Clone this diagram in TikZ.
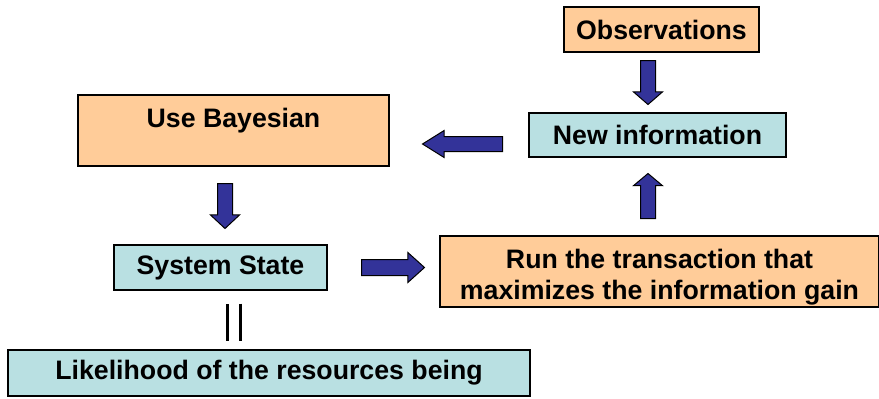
\documentclass[tikz,border=0pt]{standalone}
\usepackage{fontspec}
\setmainfont{Liberation Sans}
\usepackage{tikz}
\usetikzlibrary{shapes.arrows}
\definecolor{boxorange}{RGB}{255,204,153}
\definecolor{boxteal}{RGB}{185,224,226}
\definecolor{arrowblue}{RGB}{51,51,153}

\begin{document}
\begin{tikzpicture}[x=1pt,y=-1pt]
        \tikzstyle{box text}=[align=center,font=\fontsize{26.7}{31}\selectfont\bfseries]
        \tikzstyle{box}=[draw=black,line width=1.4pt,inner sep=0pt,box text]
        \tikzstyle{orange box}=[box,fill=boxorange]
        \tikzstyle{teal box}=[box,fill=boxteal]
        \tikzstyle{block arrow}=[draw=black,line width=1pt,fill=arrowblue,single arrow,inner sep=7pt,single arrow head extend=7pt,anchor=tail]
        \useasboundingbox (0,0) rectangle (879,399);

        \node[orange box,minimum width=195pt,minimum height=45pt] (obs) at (661.5,29.5) {Observations};
        \node[teal box,minimum width=257pt,minimum height=44pt] (new) at (657.5,135) {New information};
        \node[orange box,minimum width=311pt,minimum height=71pt,text height=19pt,text depth=25pt] (bayes) at (233.5,130.5) {Use Bayesian};
        \node[teal box,minimum width=213pt,minimum height=45pt] (sys) at (220.5,267.5) {System State};
        \node[orange box,minimum width=439pt,minimum height=71pt,label={[box text,yshift=-6pt]center:{Run the transaction that\\maximizes the information gain}}] (run) at (659.5,271.5) {};
        \node[teal box,minimum width=522pt,minimum height=46pt] (like) at (269,373) {Likelihood of the resources being};

        \node[block arrow,minimum height=44pt,shape border rotate=270,single arrow tip angle=98] (obsnew) at (648,60) {};
        \node[block arrow,minimum height=80pt,shape border rotate=180,single arrow head extend=6pt,single arrow tip angle=64] (newbayes) at (503,144) {};
        \node[block arrow,minimum height=45pt,shape border rotate=90,single arrow tip angle=100] (runnew) at (648,219) {};
        \node[block arrow,minimum height=45pt,shape border rotate=270,single arrow tip angle=94] (bayessys) at (225,183) {};
        \node[block arrow,minimum height=63pt,inner sep=7.5pt,single arrow tip angle=84] (sysrun) at (361,267.5) {};

        \draw[line width=3pt,double,double distance=10pt,shorten <=13pt,shorten >=8pt] ([xshift=13pt]sys.south) -- ([xshift=13pt]sys.south |- like.north);
    \end{tikzpicture}
\end{document}
